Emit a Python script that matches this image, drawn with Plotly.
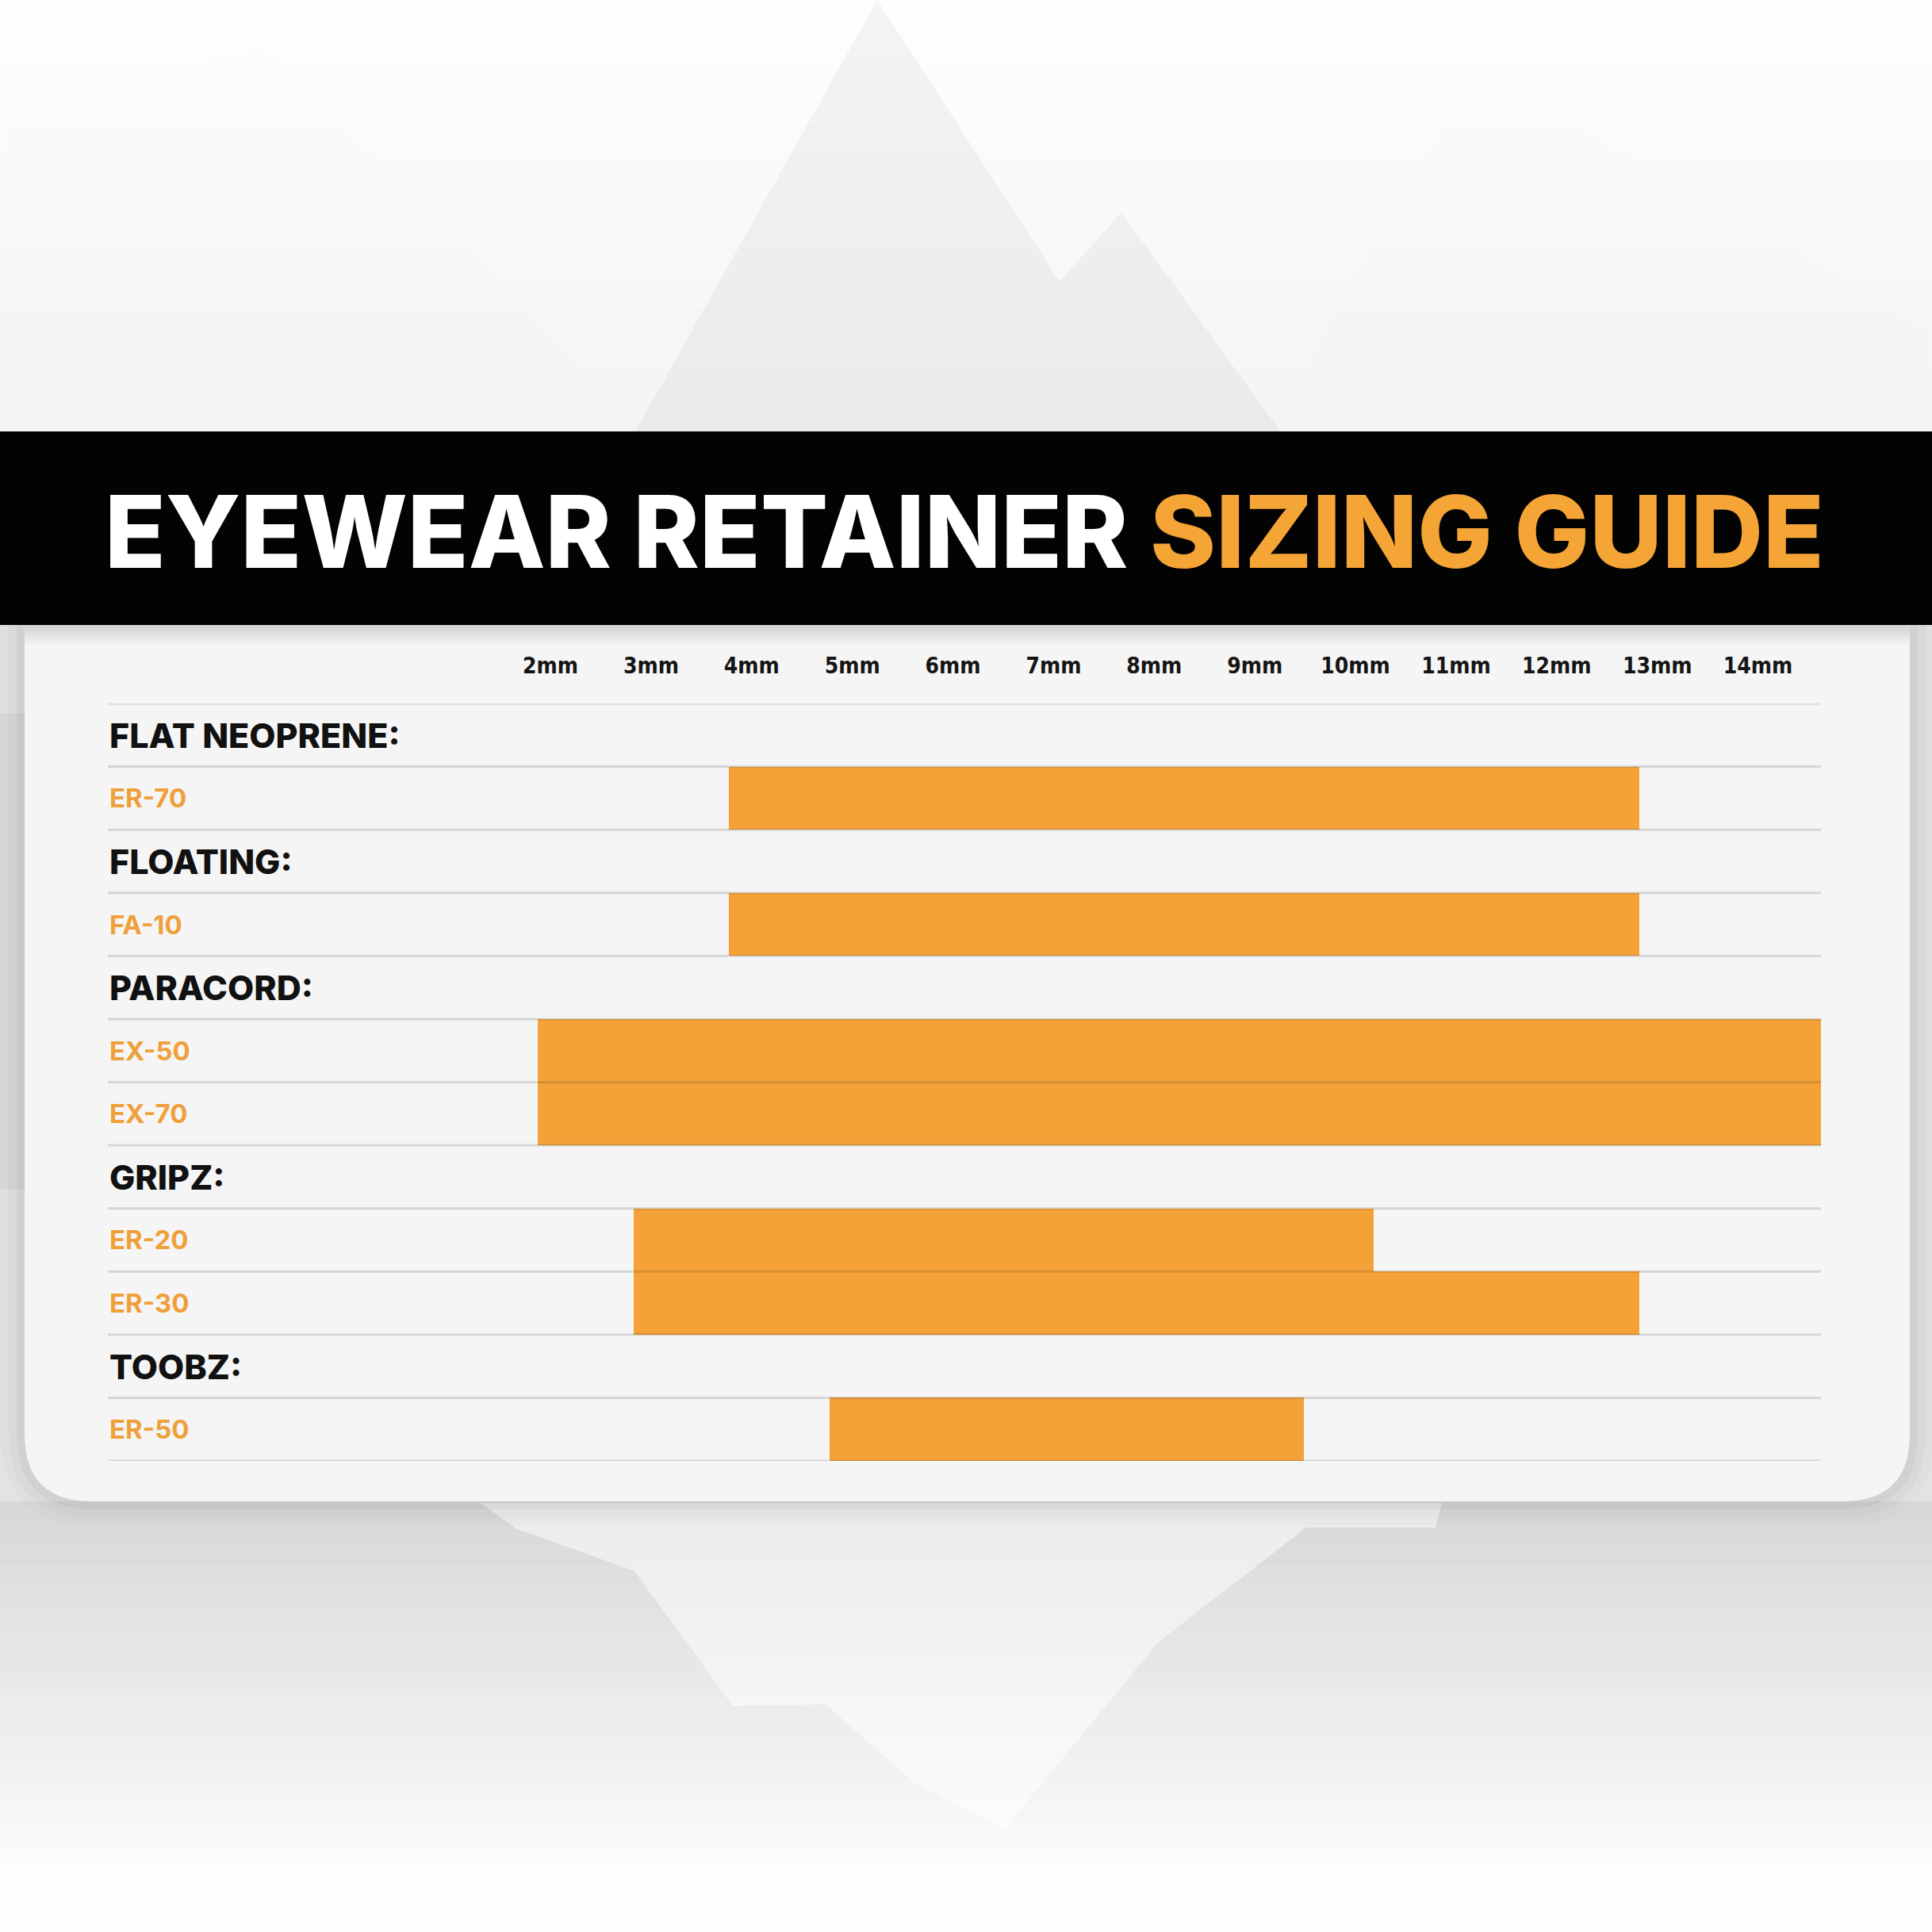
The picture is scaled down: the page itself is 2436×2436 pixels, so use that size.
import plotly.graph_objects as go

# ---------------- data ----------------
groups = ["FLAT NEOPRENE:", "FLOATING:", "PARACORD:", "GRIPZ:", "TOOBZ:"]
models = ["ER-70", "FA-10", "EX-50", "EX-70", "ER-20", "ER-30", "ER-50"]
model_group = ["FLAT NEOPRENE:", "FLOATING:", "PARACORD:", "PARACORD:",
               "GRIPZ:", "GRIPZ:", "TOOBZ:"]
fit_start_mm = [3.77, 3.77, 1.87, 1.87, 2.83, 2.83, 4.77]
fit_end_mm = [12.82, 12.82, 14.63, 14.63, 10.18, 12.82, 9.49]
size_ticks_mm = [2, 3, 4, 5, 6, 7, 8, 9, 10, 11, 12, 13, 14]
size_tick_labels = ["2mm", "3mm", "4mm", "5mm", "6mm", "7mm", "8mm", "9mm",
                    "10mm", "11mm", "12mm", "13mm", "14mm"]
title_white = "EYEWEAR RETAINER"
title_orange = "SIZING GUIDE"

# ---------------- layout constants (pixels) ----------------
W = H = 2436
L, R, T, B = 136, 2296, 887, 1842
ORANGE = "#F4A238"
TEXT_ORANGE = "#F0A03A"


def px(x):
    return (x - L) / (R - L)


def py(y):
    return (B - y) / (B - T)


def hexmix(c1, c2, t):
    a = [int(c1[i:i + 2], 16) for i in (1, 3, 5)]
    b = [int(c2[i:i + 2], 16) for i in (1, 3, 5)]
    return "#%02x%02x%02x" % tuple(round(a[k] + (b[k] - a[k]) * t) for k in range(3))


shapes = []


def rect(x0, y0, x1, y1, color, layer="below", opacity=1.0):
    shapes.append(dict(type="rect", xref="paper", yref="paper",
                       x0=px(x0), x1=px(x1), y0=py(y1), y1=py(y0),
                       fillcolor=color, line=dict(width=0), layer=layer,
                       opacity=opacity))


def poly(points, color, layer="below", opacity=1.0):
    d = "M " + " L ".join(f"{px(x):.5f},{py(y):.5f}" for x, y in points) + " Z"
    shapes.append(dict(type="path", xref="paper", yref="paper", path=d,
                       fillcolor=color, line=dict(width=0), layer=layer,
                       opacity=opacity))


def rounded_bottom(x0, y0, x1, y1, r, color, opacity=1.0):
    rx = r / (R - L)
    ry = r / (B - T)
    X0, X1, Yt, Yb = px(x0), px(x1), py(y0), py(y1)
    d = (f"M {X0},{Yt} L {X1},{Yt} L {X1},{Yb + ry} "
         f"Q {X1},{Yb} {X1 - rx},{Yb} L {X0 + rx},{Yb} "
         f"Q {X0},{Yb} {X0},{Yb + ry} Z")
    shapes.append(dict(type="path", xref="paper", yref="paper", path=d,
                       fillcolor=color, line=dict(width=0), layer="below",
                       opacity=opacity))


# background: top gradient
n = 14
for i in range(n):
    y0 = 544 * i / n
    y1 = 544 * (i + 1) / n + 1
    rect(0, y0, W, y1, hexmix("#fefefe", "#f4f4f4", i / (n - 1)))
# top mountain
poly([(800, 546), (1106, 0), (1336, 355), (1414, 268), (1616, 546)], "#000000", opacity=0.04)
# faint side mountains
poly([(0, 546), (0, 150), (330, 60), (820, 546)], "#000000", opacity=0.005)
poly([(1600, 546), (1860, 80), (2436, 420), (2436, 546)], "#000000", opacity=0.005)

# lower background
rect(0, 786, W, 1900, "#e3e3e3")
poly([(0, 900), (0, 1500), (31, 1500), (31, 900)], "#000000", opacity=0.04)
n = 18
for i in range(n):
    y0 = 1893 + (2380 - 1893) * i / n
    y1 = 1893 + (2380 - 1893) * (i + 1) / n + 1
    rect(0, y0, W, y1, hexmix("#d8d8d8", "#fdfdfd", i / (n - 1)))
rect(0, 2380, W, H, "#fefefe")
# reflection of mountain
poly([(606, 1895), (652, 1928), (800, 1981), (924, 2151), (1041, 2149),
      (1150, 2246), (1266, 2307), (1460, 2071), (1647, 1926), (1810, 1926),
      (1818, 1895)], "#ffffff", opacity=0.5)

# card shadow + card
for k, op in [(30, 0.015), (20, 0.025), (10, 0.035)]:
    rounded_bottom(31 - k, 788, 2408 + k, 1893 + k, 85 + k, "#000000", opacity=op)
rounded_bottom(31, 788, 2408, 1893, 85, "#f5f5f5")
n = 8
for i in range(n):
    y0 = 788 + 28 * i / n
    y1 = 788 + 28 * (i + 1) / n + 0.5
    rect(31, y0, 2408, y1, hexmix("#d4d4d4", "#f5f5f5", i / (n - 1)))

# black title band
rect(0, 544, W, 788, "#030303")

# ---------------- rows ----------------
rows = []
for g in groups:
    rows.append((g, "header", None))
    for i, m in enumerate(models):
        if model_group[i] == g:
            rows.append((m, "model", i))

bar_y, bar_len, bar_base, bar_names = [], [], [], []
for r_idx, (label, kind, mi) in enumerate(rows):
    if kind == "model":
        bar_y.append(r_idx)
        bar_base.append(fit_start_mm[mi])
        bar_len.append(fit_end_mm[mi] - fit_start_mm[mi])
        bar_names.append(label)

fig = go.Figure()
fig.add_trace(go.Bar(
    y=bar_y, x=bar_len, base=bar_base, orientation="h", width=1.0,
    marker=dict(color=ORANGE, line=dict(width=0)),
    text=bar_names, textposition="none",
    hovertemplate="%{text}: %{base:.1f}–%{x:.1f}<extra></extra>",
    showlegend=False,
))

# row separators (drawn above bars)
for k in range(len(rows) + 1):
    shapes.append(dict(type="line", xref="paper", yref="y", x0=0, x1=1,
                       y0=k - 0.5, y1=k - 0.5,
                       line=dict(color="rgba(0,0,0,0.13)", width=3),
                       layer="above"))

annotations = []
for r_idx, (label, kind, mi) in enumerate(rows):
    if kind == "header":
        font = dict(family="Inter, Lato, sans-serif", size=43, color="#111111", weight=800)
    else:
        font = dict(family="Inter, Lato, sans-serif", size=33, color=TEXT_ORANGE, weight=700)
    annotations.append(dict(xref="paper", yref="y", x=0, y=r_idx,
                            xanchor="left", yanchor="middle", text=label,
                            showarrow=False, font=font))

annotations.append(dict(
    xref="paper", yref="paper", x=px(1215.5), y=py(670),
    xanchor="center", yanchor="middle", showarrow=False,
    text=f"{title_white} <span style='color:#F5A436'>{title_orange}</span>",
    font=dict(family="Inter, Lato, sans-serif", size=126, color="#ffffff", weight=800),
))

fig.update_layout(
    width=W, height=H,
    margin=dict(l=L, r=W - R, t=T, b=H - B, pad=0),
    paper_bgcolor="#ffffff",
    plot_bgcolor="rgba(0,0,0,0)",
    shapes=shapes,
    annotations=annotations,
    bargap=0,
    showlegend=False,
    xaxis=dict(
        range=[-2.399, 14.626], side="top",
        tickmode="array", tickvals=size_ticks_mm, ticktext=size_tick_labels,
        tickfont=dict(family="DejaVu Sans Condensed, Liberation Sans Narrow, sans-serif",
                      size=28, color="#151515", weight=700),
        ticks="", showgrid=False, zeroline=False, showline=False,
        ticklabelstandoff=31, fixedrange=True,
    ),
    yaxis=dict(
        range=[len(rows) - 0.5, -0.5], showticklabels=False, showgrid=False,
        zeroline=False, showline=False, ticks="", fixedrange=True,
    ),
)

fig.write_html("out.html")
